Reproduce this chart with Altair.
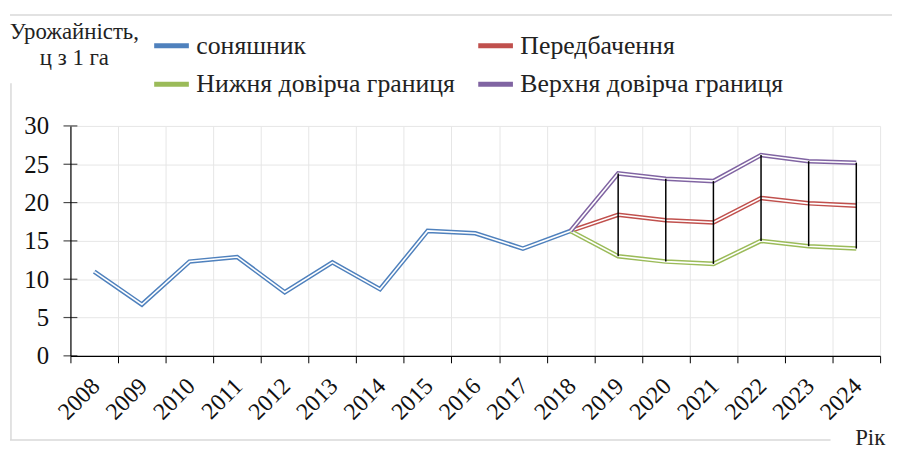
import altair as alt
import pandas as pd

# ---- data ----
years = [str(y) for y in range(2008, 2025)]
sun_years = [str(y) for y in range(2008, 2019)]
sunflower = [11.0, 6.7, 12.3, 12.9, 8.3, 12.2, 8.7, 16.3, 16.0, 14.0, 16.3]
fc_years = [str(y) for y in range(2018, 2025)]
forecast = [16.3, 18.4, 17.7, 17.4, 20.6, 19.9, 19.6]
lower = [16.3, 13.0, 12.3, 12.0, 15.0, 14.3, 14.0]
upper = [16.3, 23.8, 23.1, 22.8, 26.2, 25.4, 25.2]
series_names = ["соняшник", "Передбачення", "Нижня довірча границя", "Верхня довірча границя"]
series_colors = ["#4F81BD", "#C0504D", "#9BBB59", "#8064A2"]
# legend fills column by column: order so rows read (соняшник, Передбачення), (Нижня, Верхня)
legend_order = [0, 2, 1, 3]
y_ticks = [0, 5, 10, 15, 20, 25, 30]
y_title = ["Урожайність,", "ц з 1 га"]
x_title = "Рік"

rows = []
for yr, v in zip(sun_years, sunflower):
    rows.append({"year": yr, "value": v, "series": series_names[0]})
for name, vals in zip(series_names[1:], [forecast, lower, upper]):
    for yr, v in zip(fc_years, vals):
        rows.append({"year": yr, "value": v, "series": name})
df = pd.DataFrame(rows)

hl = pd.DataFrame({"year": fc_years[1:], "lo": lower[1:], "hi": upper[1:]})
tick_df = pd.DataFrame({"v": y_ticks})

FONT = "Liberation Serif"
W, H = 817, 232

xscale = alt.Scale(type="band", domain=years, paddingInner=0, paddingOuter=0)
yscale = alt.Scale(domain=[0, 30], nice=False, zero=True)

x_axis = alt.Axis(
    title=None,
    labelAngle=-45, labelAlign="right", labelBaseline="top",
    labelFont=FONT, labelFontSize=24, labelColor="#111111", labelPadding=11, labelOffset=-7,
    tickBand="extent", ticks=True, tickSize=7, tickColor="black", tickWidth=1,
    domainColor="black", domainWidth=1.2,
    grid=True, gridColor="#E6E6E6", gridWidth=1, labelOverlap=False,
)
y_axis = alt.Axis(
    values=y_ticks, title=None,
    labelFont=FONT, labelFontSize=25, labelColor="#111111", labelPadding=22,
    labelOverlap=False,
    ticks=False, domainColor="black", domainWidth=1.2,
    grid=True, gridColor="#E6E6E6", gridWidth=1,
)

x_enc = alt.X("year:O", scale=xscale, bandPosition=0.5, axis=x_axis)
y_enc = alt.Y("value:Q", scale=yscale, axis=y_axis)

color_scale = alt.Scale(
    domain=[series_names[i] for i in legend_order],
    range=[series_colors[i] for i in legend_order],
)
legend = alt.Legend(
    orient="none", legendX=82, legendY=-101, columns=2, title=None,
    symbolType="stroke", symbolSize=1225, symbolStrokeWidth=5,
    labelFont=FONT, labelFontSize=26, labelColor="#222222", labelOffset=5,
    labelLimit=500, rowPadding=6, columnPadding=12,
)

base = alt.Chart(df)
layers = []
for name in series_names:
    colored = base.transform_filter(alt.datum.series == name).mark_line(
        strokeWidth=4.6
    ).encode(
        x=x_enc, y=y_enc,
        color=alt.Color("series:N", scale=color_scale, legend=legend),
    )
    white = base.transform_filter(alt.datum.series == name).mark_line(
        strokeWidth=1.6, color="white"
    ).encode(x=x_enc, y=y_enc)
    layers += [colored, white]

hilo = alt.Chart(hl).mark_rule(color="black", strokeWidth=1.5).encode(
    x=alt.X("year:O", scale=xscale, bandPosition=0.5, axis=x_axis),
    y=alt.Y("lo:Q", scale=yscale, axis=y_axis),
    y2="hi:Q",
)

yticks = alt.Chart(tick_df).mark_tick(
    orient="horizontal", size=14, thickness=1.2, color="black"
).encode(y=alt.Y("v:Q", scale=yscale, axis=y_axis), x=alt.value(0))

one = pd.DataFrame({"a": [0]})
border_color = "#D9D9D9"
border = [
    alt.Chart(one).mark_rule(color=border_color, strokeWidth=1.5).encode(
        x=alt.value(-61), x2=alt.value(830), y=alt.value(-112)),
    alt.Chart(one).mark_rule(color=border_color, strokeWidth=1.5).encode(
        x=alt.value(-60), y=alt.value(-43), y2=alt.value(317)),
    alt.Chart(one).mark_rule(color=border_color, strokeWidth=1.5).encode(
        x=alt.value(-61), x2=alt.value(767), y=alt.value(317)),
]

titles = [
    alt.Chart(one).mark_text(
        font=FONT, fontSize=23, color="#222222", align="center",
        baseline="alphabetic", lineHeight=27,
    ).encode(x=alt.value(4), y=alt.value(-88), text=alt.value(y_title)),
    alt.Chart(one).mark_text(
        font=FONT, fontSize=23, color="#222222", align="center", baseline="alphabetic",
    ).encode(x=alt.value(807), y=alt.value(322), text=alt.value(x_title)),
]

chart = alt.layer(*layers, hilo, yticks, *border, *titles).properties(
    width=W, height=H,
    autosize=alt.AutoSizeParams(type="none"),
    padding={"left": 63, "top": 117, "right": 12, "bottom": 93},
    background="white",
).configure_view(stroke=None).configure_legend(labelFont=FONT)

chart.save("out.html", embed_options={"renderer": "svg", "actions": False})
